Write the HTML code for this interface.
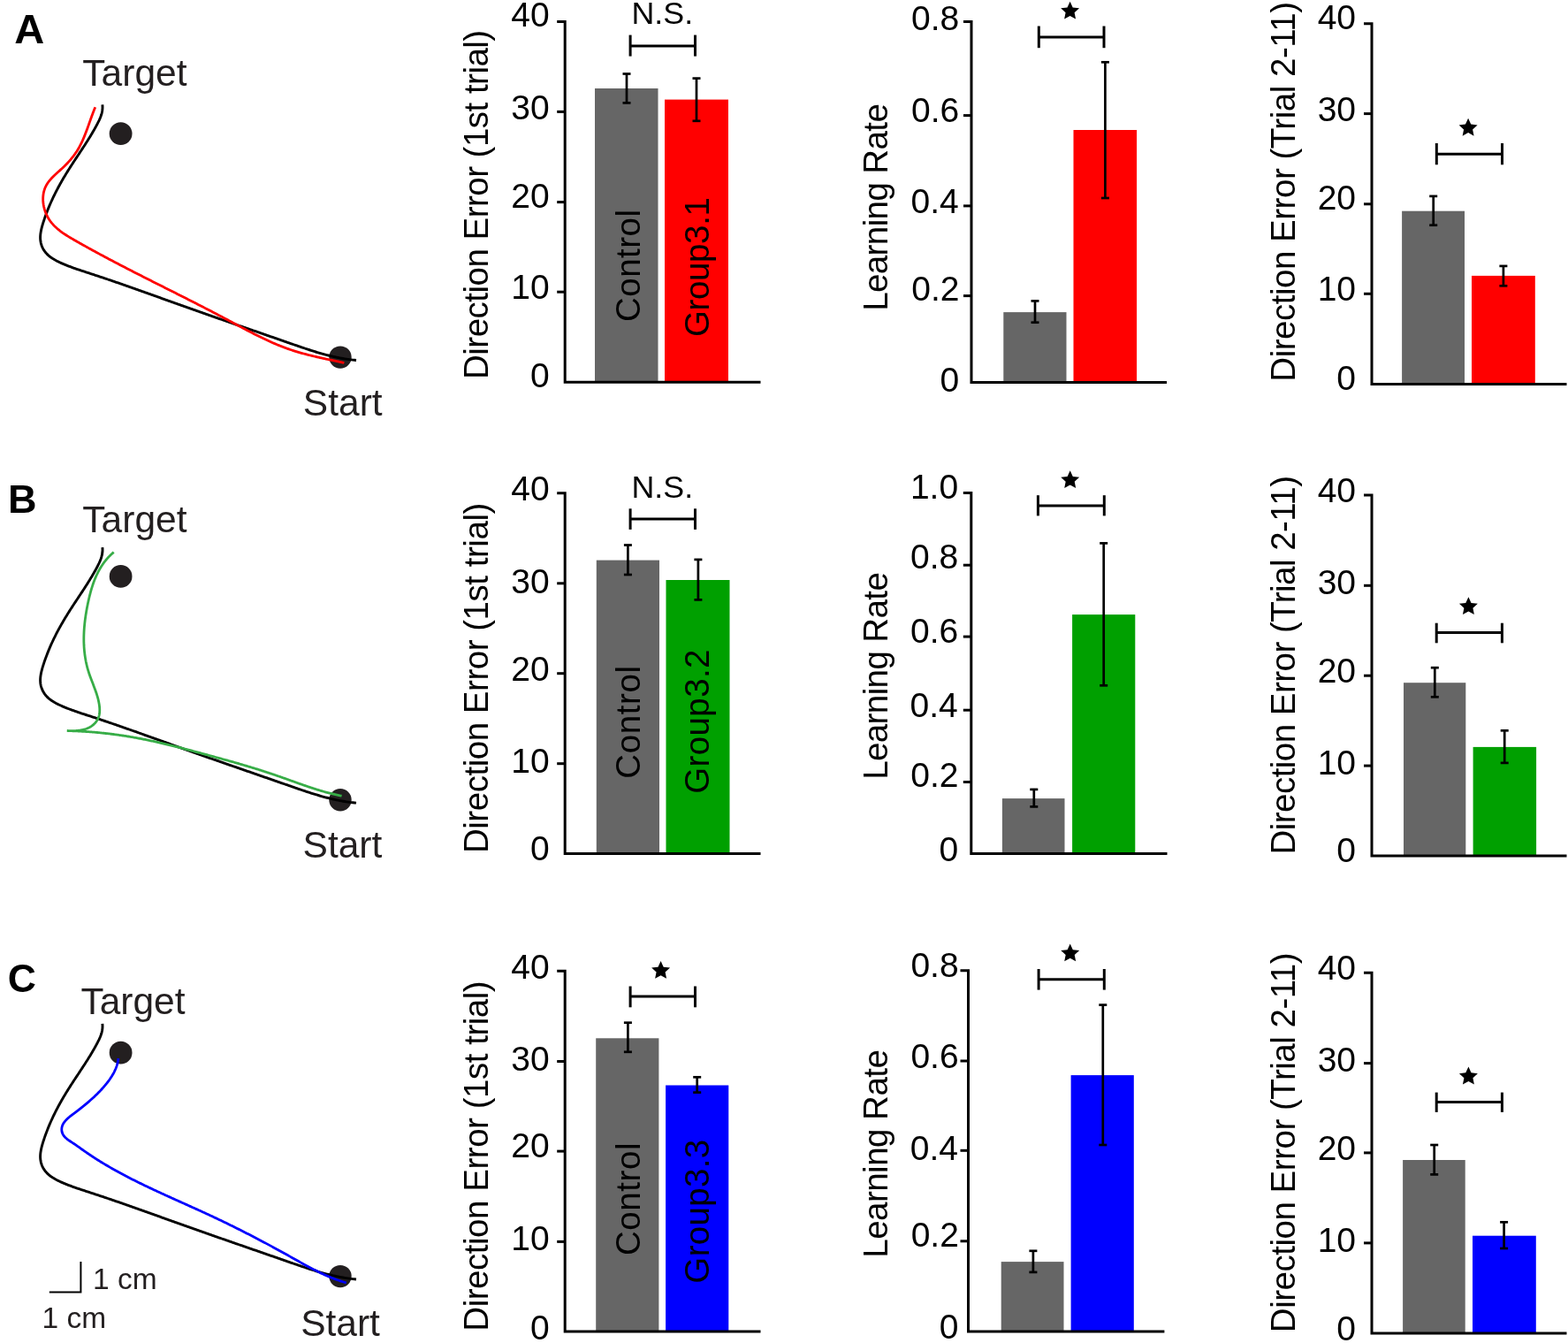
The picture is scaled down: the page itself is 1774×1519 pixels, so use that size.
<!DOCTYPE html>
<html><head><meta charset="utf-8"><title>Figure</title>
<style>html,body{margin:0;padding:0;background:#fff;}svg{display:block;}</style></head>
<body>
<svg width="1774" height="1519" viewBox="0 0 1774 1519" font-family="'Liberation Sans', Arial, Helvetica, sans-serif">
<rect x="0" y="0" width="1774" height="1519" fill="#fff"/>
<text x="16.13" y="49.00" font-size="47.00" fill="#000" font-weight="bold">A</text>
<text x="93.35" y="97.10" font-size="42.50" fill="#231f20">Target</text>
<text x="342.87" y="470.30" font-size="42.50" fill="#231f20">Start</text>
<circle cx="136.6" cy="151.20" r="12.9" fill="#231f20"/>
<circle cx="385.0" cy="404.10" r="12.7" fill="#231f20"/>
<path d="M115.87,118.33 L116.01,120.31 L116.00,122.24 L115.86,124.12 L115.59,125.96 L115.21,127.76 L114.73,129.53 L114.16,131.26 L113.52,132.97 L112.81,134.66 L112.05,136.32 L111.24,137.98 L110.40,139.62 L109.54,141.25 L108.67,142.88 L107.78,144.50 L106.88,146.12 L105.96,147.74 L105.02,149.34 L104.08,150.95 L103.12,152.55 L102.16,154.15 L101.18,155.74 L100.19,157.33 L99.19,158.92 L98.19,160.50 L97.18,162.09 L96.16,163.67 L95.14,165.24 L94.11,166.82 L93.08,168.40 L92.04,169.97 L91.00,171.54 L89.96,173.11 L88.92,174.69 L87.88,176.26 L86.83,177.83 L85.79,179.40 L84.76,180.97 L83.72,182.55 L82.69,184.12 L81.66,185.70 L80.64,187.28 L79.62,188.86 L78.61,190.44 L77.60,192.02 L76.61,193.61 L75.62,195.20 L74.64,196.79 L73.67,198.39 L72.72,199.99 L71.77,201.59 L70.83,203.20 L69.90,204.81 L68.98,206.43 L68.07,208.05 L67.17,209.68 L66.28,211.31 L65.40,212.95 L64.53,214.60 L63.67,216.25 L62.83,217.91 L62.00,219.58 L61.17,221.25 L60.36,222.93 L59.56,224.62 L58.78,226.31 L58.00,228.02 L57.24,229.73 L56.49,231.45 L55.76,233.18 L55.03,234.92 L54.32,236.67 L53.62,238.43 L52.94,240.20 L52.27,241.98 L51.61,243.77 L50.97,245.57 L50.34,247.38 L49.73,249.21 L49.12,251.04 L48.54,252.89 L47.98,254.74 L47.46,256.60 L46.99,258.47 L46.56,260.33 L46.21,262.18 L45.92,264.03 L45.72,265.87 L45.61,267.70 L45.60,269.51 L45.71,271.30 L45.93,273.07 L46.27,274.81 L46.73,276.52 L47.30,278.19 L47.98,279.82 L48.77,281.40 L49.67,282.92 L50.67,284.39 L51.77,285.80 L52.96,287.14 L54.26,288.41 L55.64,289.61 L57.10,290.75 L58.62,291.83 L60.21,292.86 L61.86,293.84 L63.55,294.78 L65.27,295.67 L67.03,296.52 L68.81,297.34 L70.60,298.13 L72.39,298.89 L74.18,299.62 L75.97,300.34 L77.76,301.04 L79.54,301.71 L81.32,302.37 L83.10,303.02 L84.88,303.65 L86.66,304.27 L88.43,304.88 L90.20,305.47 L91.97,306.06 L93.74,306.65 L95.51,307.23 L97.28,307.80 L99.04,308.38 L100.81,308.95 L102.58,309.52 L104.35,310.10 L106.11,310.68 L107.88,311.26 L109.65,311.85 L111.41,312.43 L113.18,313.02 L114.95,313.61 L116.71,314.21 L118.48,314.80 L120.25,315.40 L122.01,316.00 L123.78,316.60 L125.55,317.20 L127.31,317.80 L129.08,318.41 L130.85,319.02 L132.61,319.63 L134.38,320.24 L136.15,320.85 L137.91,321.46 L139.68,322.08 L141.45,322.69 L143.21,323.31 L144.98,323.93 L146.75,324.55 L148.51,325.17 L150.28,325.80 L152.05,326.42 L153.81,327.04 L155.58,327.67 L157.35,328.30 L159.11,328.92 L160.88,329.55 L162.64,330.18 L164.41,330.81 L166.18,331.44 L167.94,332.07 L169.71,332.70 L171.48,333.33 L173.24,333.96 L175.01,334.59 L176.78,335.23 L178.54,335.86 L180.31,336.49 L182.08,337.13 L183.84,337.76 L185.61,338.39 L187.38,339.02 L189.14,339.66 L190.91,340.29 L192.67,340.92 L194.44,341.55 L196.21,342.19 L197.97,342.82 L199.74,343.45 L201.51,344.08 L203.27,344.71 L205.04,345.34 L206.80,345.97 L208.57,346.60 L210.34,347.22 L212.10,347.85 L213.87,348.48 L215.64,349.10 L217.40,349.73 L219.17,350.35 L220.93,350.98 L222.70,351.60 L224.47,352.22 L226.23,352.84 L228.00,353.46 L229.77,354.09 L231.53,354.71 L233.30,355.32 L235.06,355.94 L236.83,356.56 L238.60,357.18 L240.36,357.80 L242.13,358.42 L243.90,359.03 L245.66,359.65 L247.43,360.27 L249.20,360.88 L250.96,361.50 L252.73,362.11 L254.50,362.73 L256.26,363.34 L258.03,363.96 L259.80,364.57 L261.56,365.18 L263.33,365.80 L265.10,366.41 L266.87,367.03 L268.63,367.64 L270.40,368.25 L272.17,368.86 L273.94,369.48 L275.70,370.09 L277.47,370.70 L279.24,371.32 L281.01,371.93 L282.77,372.54 L284.54,373.15 L286.31,373.77 L288.08,374.38 L289.85,374.99 L291.62,375.60 L293.39,376.22 L295.15,376.83 L296.92,377.44 L298.69,378.06 L300.46,378.67 L302.23,379.28 L304.00,379.90 L305.77,380.51 L307.54,381.12 L309.31,381.74 L311.08,382.35 L312.85,382.97 L314.62,383.58 L316.39,384.20 L318.16,384.82 L319.93,385.43 L321.70,386.05 L323.48,386.67 L325.25,387.28 L327.02,387.90 L328.79,388.52 L330.56,389.14 L332.33,389.75 L334.11,390.37 L335.88,390.98 L337.66,391.59 L339.43,392.20 L341.21,392.80 L342.99,393.40 L344.77,394.00 L346.55,394.59 L348.33,395.17 L350.11,395.75 L351.90,396.32 L353.68,396.89 L355.47,397.44 L357.26,397.99 L359.05,398.53 L360.85,399.06 L362.65,399.58 L364.45,400.09 L366.25,400.59 L368.05,401.08 L369.86,401.55 L371.67,402.02 L373.49,402.47 L375.30,402.90 L377.12,403.33 L378.95,403.73 L380.77,404.13 L382.60,404.50 L384.44,404.86 L386.28,405.21 L388.12,405.53 L389.96,405.84 L391.81,406.13 L393.67,406.41 L395.53,406.66 L397.39,406.89 L399.26,407.11 L401.13,407.30 L403.01,407.47" transform="translate(0 0.00)" fill="none" stroke="#000" stroke-width="2.90" stroke-linecap="butt" stroke-linejoin="round"/>
<path d="M107.80,121.18 L107.15,122.75 L106.50,124.33 L105.87,125.93 L105.25,127.54 L104.64,129.16 L104.04,130.79 L103.44,132.42 L102.85,134.07 L102.26,135.72 L101.68,137.37 L101.09,139.03 L100.50,140.69 L99.91,142.35 L99.32,144.01 L98.72,145.67 L98.11,147.33 L97.49,148.98 L96.86,150.62 L96.22,152.26 L95.57,153.89 L94.90,155.51 L94.21,157.12 L93.51,158.72 L92.78,160.31 L92.03,161.88 L91.26,163.43 L90.47,164.97 L89.65,166.49 L88.80,167.98 L87.92,169.46 L87.02,170.92 L86.08,172.35 L85.11,173.77 L84.11,175.16 L83.09,176.54 L82.03,177.90 L80.95,179.24 L79.84,180.57 L78.70,181.88 L77.54,183.18 L76.35,184.46 L75.13,185.73 L73.89,186.98 L72.63,188.23 L71.33,189.46 L70.02,190.68 L68.68,191.90 L67.34,193.11 L65.99,194.32 L64.64,195.54 L63.30,196.76 L61.99,197.99 L60.69,199.23 L59.43,200.49 L58.21,201.77 L57.04,203.07 L55.92,204.40 L54.87,205.75 L53.88,207.14 L52.98,208.57 L52.15,210.03 L51.42,211.54 L50.78,213.09 L50.22,214.67 L49.75,216.28 L49.37,217.92 L49.07,219.58 L48.86,221.27 L48.72,222.96 L48.67,224.68 L48.69,226.39 L48.78,228.12 L48.95,229.84 L49.20,231.56 L49.51,233.27 L49.89,234.97 L50.35,236.66 L50.86,238.32 L51.45,239.97 L52.09,241.58 L52.80,243.17 L53.57,244.72 L54.39,246.24 L55.27,247.71 L56.21,249.14 L57.20,250.52 L58.24,251.86 L59.33,253.16 L60.47,254.42 L61.64,255.64 L62.86,256.82 L64.12,257.98 L65.41,259.10 L66.74,260.19 L68.10,261.26 L69.48,262.29 L70.89,263.31 L72.33,264.30 L73.79,265.28 L75.27,266.23 L76.76,267.17 L78.27,268.09 L79.79,269.01 L81.32,269.91 L82.86,270.80 L84.40,271.69 L85.95,272.57 L87.49,273.44 L89.04,274.32 L90.59,275.19 L92.13,276.06 L93.68,276.93 L95.22,277.79 L96.77,278.65 L98.31,279.51 L99.86,280.36 L101.41,281.22 L102.95,282.06 L104.50,282.91 L106.05,283.76 L107.59,284.60 L109.14,285.44 L110.69,286.28 L112.23,287.11 L113.78,287.95 L115.33,288.78 L116.87,289.60 L118.42,290.43 L119.97,291.26 L121.51,292.08 L123.06,292.90 L124.61,293.72 L126.15,294.53 L127.70,295.35 L129.25,296.16 L130.80,296.97 L132.34,297.78 L133.89,298.59 L135.44,299.40 L136.99,300.20 L138.53,301.00 L140.08,301.81 L141.63,302.61 L143.18,303.40 L144.72,304.20 L146.27,305.00 L147.82,305.79 L149.37,306.59 L150.91,307.38 L152.46,308.17 L154.01,308.96 L155.56,309.75 L157.11,310.54 L158.65,311.32 L160.20,312.11 L161.75,312.90 L163.30,313.68 L164.84,314.47 L166.39,315.25 L167.94,316.03 L169.49,316.81 L171.03,317.60 L172.58,318.38 L174.13,319.16 L175.68,319.94 L177.22,320.72 L178.77,321.50 L180.32,322.27 L181.87,323.05 L183.41,323.83 L184.96,324.61 L186.51,325.39 L188.05,326.17 L189.60,326.95 L191.15,327.72 L192.69,328.50 L194.24,329.28 L195.79,330.06 L197.34,330.84 L198.88,331.62 L200.43,332.40 L201.98,333.18 L203.52,333.96 L205.07,334.74 L206.61,335.52 L208.16,336.30 L209.71,337.08 L211.25,337.86 L212.80,338.65 L214.34,339.43 L215.89,340.22 L217.44,341.00 L218.98,341.79 L220.53,342.58 L222.07,343.36 L223.62,344.15 L225.16,344.94 L226.71,345.74 L228.25,346.53 L229.80,347.32 L231.34,348.12 L232.89,348.91 L234.43,349.71 L235.98,350.51 L237.52,351.31 L239.06,352.11 L240.61,352.92 L242.15,353.72 L243.70,354.53 L245.24,355.33 L246.78,356.14 L248.33,356.96 L249.87,357.77 L251.41,358.58 L252.96,359.40 L254.50,360.22 L256.04,361.04 L257.58,361.86 L259.13,362.69 L260.67,363.51 L262.21,364.34 L263.75,365.16 L265.30,365.99 L266.84,366.82 L268.38,367.65 L269.93,368.47 L271.48,369.30 L273.02,370.12 L274.57,370.94 L276.12,371.76 L277.67,372.58 L279.22,373.39 L280.77,374.20 L282.33,375.01 L283.88,375.81 L285.44,376.61 L287.00,377.41 L288.56,378.20 L290.13,378.99 L291.69,379.77 L293.26,380.54 L294.83,381.31 L296.40,382.07 L297.98,382.83 L299.55,383.58 L301.14,384.32 L302.72,385.05 L304.30,385.78 L305.89,386.50 L307.49,387.21 L309.08,387.91 L310.68,388.60 L312.28,389.28 L313.89,389.95 L315.50,390.61 L317.11,391.26 L318.73,391.90 L320.35,392.53 L321.98,393.14 L323.61,393.75 L325.24,394.34 L326.88,394.92 L328.52,395.49 L330.17,396.04 L331.82,396.58 L333.48,397.11 L335.14,397.62 L336.80,398.12 L338.47,398.61 L340.15,399.09 L341.82,399.56 L343.50,400.02 L345.18,400.47 L346.87,400.91 L348.56,401.34 L350.25,401.76 L351.94,402.18 L353.64,402.59 L355.34,402.99 L357.03,403.38 L358.74,403.78 L360.44,404.16 L362.14,404.54 L363.84,404.92 L365.55,405.29 L367.26,405.66 L368.96,406.03 L370.67,406.40 L372.37,406.76 L374.08,407.13 L375.78,407.49 L377.49,407.86 L379.19,408.22 L380.90,408.59 L382.60,408.96 L384.30,409.33 L386.00,409.70 L387.69,410.07 L389.39,410.45" fill="none" stroke="#ff0000" stroke-width="2.80" stroke-linecap="butt" stroke-linejoin="round"/>
<text x="8.89" y="579.50" font-size="45.00" fill="#000" font-weight="bold">B</text>
<text x="93.35" y="602.30" font-size="42.50" fill="#231f20">Target</text>
<text x="342.57" y="970.40" font-size="42.50" fill="#231f20">Start</text>
<circle cx="136.6" cy="651.90" r="12.9" fill="#231f20"/>
<circle cx="385.0" cy="904.80" r="12.7" fill="#231f20"/>
<path d="M115.87,118.33 L116.01,120.31 L116.00,122.24 L115.86,124.12 L115.59,125.96 L115.21,127.76 L114.73,129.53 L114.16,131.26 L113.52,132.97 L112.81,134.66 L112.05,136.32 L111.24,137.98 L110.40,139.62 L109.54,141.25 L108.67,142.88 L107.78,144.50 L106.88,146.12 L105.96,147.74 L105.02,149.34 L104.08,150.95 L103.12,152.55 L102.16,154.15 L101.18,155.74 L100.19,157.33 L99.19,158.92 L98.19,160.50 L97.18,162.09 L96.16,163.67 L95.14,165.24 L94.11,166.82 L93.08,168.40 L92.04,169.97 L91.00,171.54 L89.96,173.11 L88.92,174.69 L87.88,176.26 L86.83,177.83 L85.79,179.40 L84.76,180.97 L83.72,182.55 L82.69,184.12 L81.66,185.70 L80.64,187.28 L79.62,188.86 L78.61,190.44 L77.60,192.02 L76.61,193.61 L75.62,195.20 L74.64,196.79 L73.67,198.39 L72.72,199.99 L71.77,201.59 L70.83,203.20 L69.90,204.81 L68.98,206.43 L68.07,208.05 L67.17,209.68 L66.28,211.31 L65.40,212.95 L64.53,214.60 L63.67,216.25 L62.83,217.91 L62.00,219.58 L61.17,221.25 L60.36,222.93 L59.56,224.62 L58.78,226.31 L58.00,228.02 L57.24,229.73 L56.49,231.45 L55.76,233.18 L55.03,234.92 L54.32,236.67 L53.62,238.43 L52.94,240.20 L52.27,241.98 L51.61,243.77 L50.97,245.57 L50.34,247.38 L49.73,249.21 L49.12,251.04 L48.54,252.89 L47.98,254.74 L47.46,256.60 L46.99,258.47 L46.56,260.33 L46.21,262.18 L45.92,264.03 L45.72,265.87 L45.61,267.70 L45.60,269.51 L45.71,271.30 L45.93,273.07 L46.27,274.81 L46.73,276.52 L47.30,278.19 L47.98,279.82 L48.77,281.40 L49.67,282.92 L50.67,284.39 L51.77,285.80 L52.96,287.14 L54.26,288.41 L55.64,289.61 L57.10,290.75 L58.62,291.83 L60.21,292.86 L61.86,293.84 L63.55,294.78 L65.27,295.67 L67.03,296.52 L68.81,297.34 L70.60,298.13 L72.39,298.89 L74.18,299.62 L75.97,300.34 L77.76,301.04 L79.54,301.71 L81.32,302.37 L83.10,303.02 L84.88,303.65 L86.66,304.27 L88.43,304.88 L90.20,305.47 L91.97,306.06 L93.74,306.65 L95.51,307.23 L97.28,307.80 L99.04,308.38 L100.81,308.95 L102.58,309.52 L104.35,310.10 L106.11,310.68 L107.88,311.26 L109.65,311.85 L111.41,312.43 L113.18,313.02 L114.95,313.61 L116.71,314.21 L118.48,314.80 L120.25,315.40 L122.01,316.00 L123.78,316.60 L125.55,317.20 L127.31,317.80 L129.08,318.41 L130.85,319.02 L132.61,319.63 L134.38,320.24 L136.15,320.85 L137.91,321.46 L139.68,322.08 L141.45,322.69 L143.21,323.31 L144.98,323.93 L146.75,324.55 L148.51,325.17 L150.28,325.80 L152.05,326.42 L153.81,327.04 L155.58,327.67 L157.35,328.30 L159.11,328.92 L160.88,329.55 L162.64,330.18 L164.41,330.81 L166.18,331.44 L167.94,332.07 L169.71,332.70 L171.48,333.33 L173.24,333.96 L175.01,334.59 L176.78,335.23 L178.54,335.86 L180.31,336.49 L182.08,337.13 L183.84,337.76 L185.61,338.39 L187.38,339.02 L189.14,339.66 L190.91,340.29 L192.67,340.92 L194.44,341.55 L196.21,342.19 L197.97,342.82 L199.74,343.45 L201.51,344.08 L203.27,344.71 L205.04,345.34 L206.80,345.97 L208.57,346.60 L210.34,347.22 L212.10,347.85 L213.87,348.48 L215.64,349.10 L217.40,349.73 L219.17,350.35 L220.93,350.98 L222.70,351.60 L224.47,352.22 L226.23,352.84 L228.00,353.46 L229.77,354.09 L231.53,354.71 L233.30,355.32 L235.06,355.94 L236.83,356.56 L238.60,357.18 L240.36,357.80 L242.13,358.42 L243.90,359.03 L245.66,359.65 L247.43,360.27 L249.20,360.88 L250.96,361.50 L252.73,362.11 L254.50,362.73 L256.26,363.34 L258.03,363.96 L259.80,364.57 L261.56,365.18 L263.33,365.80 L265.10,366.41 L266.87,367.03 L268.63,367.64 L270.40,368.25 L272.17,368.86 L273.94,369.48 L275.70,370.09 L277.47,370.70 L279.24,371.32 L281.01,371.93 L282.77,372.54 L284.54,373.15 L286.31,373.77 L288.08,374.38 L289.85,374.99 L291.62,375.60 L293.39,376.22 L295.15,376.83 L296.92,377.44 L298.69,378.06 L300.46,378.67 L302.23,379.28 L304.00,379.90 L305.77,380.51 L307.54,381.12 L309.31,381.74 L311.08,382.35 L312.85,382.97 L314.62,383.58 L316.39,384.20 L318.16,384.82 L319.93,385.43 L321.70,386.05 L323.48,386.67 L325.25,387.28 L327.02,387.90 L328.79,388.52 L330.56,389.14 L332.33,389.75 L334.11,390.37 L335.88,390.98 L337.66,391.59 L339.43,392.20 L341.21,392.80 L342.99,393.40 L344.77,394.00 L346.55,394.59 L348.33,395.17 L350.11,395.75 L351.90,396.32 L353.68,396.89 L355.47,397.44 L357.26,397.99 L359.05,398.53 L360.85,399.06 L362.65,399.58 L364.45,400.09 L366.25,400.59 L368.05,401.08 L369.86,401.55 L371.67,402.02 L373.49,402.47 L375.30,402.90 L377.12,403.33 L378.95,403.73 L380.77,404.13 L382.60,404.50 L384.44,404.86 L386.28,405.21 L388.12,405.53 L389.96,405.84 L391.81,406.13 L393.67,406.41 L395.53,406.66 L397.39,406.89 L399.26,407.11 L401.13,407.30 L403.01,407.47" transform="translate(0 500.70)" fill="none" stroke="#000" stroke-width="2.90" stroke-linecap="butt" stroke-linejoin="round"/>
<path d="M128.69,624.54 L128.05,625.08 L127.42,625.63 L126.80,626.19 L126.19,626.75 L125.58,627.31 L124.99,627.89 L124.40,628.46 L123.83,629.04 L123.26,629.63 L122.70,630.22 L122.15,630.82 L121.61,631.42 L121.08,632.02 L120.55,632.64 L120.04,633.25 L119.53,633.87 L119.03,634.50 L118.54,635.13 L118.05,635.76 L117.58,636.40 L117.11,637.04 L116.65,637.69 L116.19,638.34 L115.75,639.00 L115.31,639.66 L114.88,640.32 L114.45,640.99 L114.04,641.66 L113.63,642.33 L113.22,643.01 L112.83,643.70 L112.44,644.38 L112.05,645.07 L111.68,645.77 L111.31,646.47 L110.94,647.17 L110.58,647.87 L110.23,648.58 L109.89,649.29 L109.55,650.00 L109.22,650.72 L108.89,651.44 L108.57,652.16 L108.25,652.89 L107.94,653.62 L107.63,654.35 L107.33,655.09 L107.04,655.82 L106.75,656.56 L106.47,657.30 L106.19,658.05 L105.91,658.80 L105.64,659.55 L105.38,660.30 L105.12,661.05 L104.86,661.81 L104.61,662.57 L104.36,663.33 L104.12,664.09 L103.88,664.85 L103.65,665.62 L103.42,666.39 L103.19,667.16 L102.97,667.93 L102.75,668.70 L102.54,669.48 L102.33,670.25 L102.12,671.03 L101.91,671.81 L101.71,672.59 L101.51,673.37 L101.32,674.16 L101.13,674.94 L100.94,675.73 L100.75,676.51 L100.57,677.30 L100.39,678.09 L100.21,678.87 L100.04,679.66 L99.86,680.45 L99.69,681.24 L99.52,682.04 L99.36,682.83 L99.19,683.62 L99.03,684.41 L98.87,685.21 L98.72,686.00 L98.56,686.79 L98.41,687.59 L98.26,688.38 L98.12,689.18 L97.97,689.98 L97.83,690.77 L97.69,691.57 L97.56,692.37 L97.43,693.16 L97.30,693.96 L97.17,694.76 L97.04,695.56 L96.92,696.36 L96.81,697.16 L96.69,697.95 L96.58,698.75 L96.47,699.55 L96.36,700.35 L96.26,701.15 L96.16,701.95 L96.07,702.75 L95.97,703.55 L95.88,704.35 L95.80,705.16 L95.71,705.96 L95.64,706.76 L95.56,707.56 L95.49,708.36 L95.42,709.16 L95.35,709.96 L95.29,710.76 L95.23,711.56 L95.18,712.36 L95.13,713.16 L95.08,713.96 L95.04,714.76 L95.00,715.56 L94.97,716.36 L94.94,717.16 L94.91,717.96 L94.89,718.76 L94.87,719.56 L94.85,720.36 L94.84,721.16 L94.83,721.96 L94.83,722.76 L94.83,723.56 L94.84,724.36 L94.85,725.15 L94.86,725.95 L94.88,726.75 L94.91,727.54 L94.94,728.34 L94.97,729.14 L95.00,729.93 L95.05,730.73 L95.09,731.52 L95.14,732.31 L95.20,733.11 L95.26,733.90 L95.32,734.69 L95.39,735.48 L95.47,736.28 L95.55,737.07 L95.63,737.86 L95.72,738.65 L95.82,739.43 L95.92,740.22 L96.02,741.01 L96.13,741.80 L96.25,742.58 L96.37,743.37 L96.49,744.15 L96.62,744.94 L96.76,745.72 L96.90,746.50 L97.04,747.29 L97.20,748.07 L97.35,748.85 L97.52,749.63 L97.68,750.40 L97.86,751.18 L98.04,751.96 L98.22,752.73 L98.41,753.51 L98.61,754.28 L98.81,755.06 L99.02,755.83 L99.23,756.60 L99.45,757.37 L99.68,758.14 L99.91,758.90 L100.15,759.67 L100.39,760.44 L100.64,761.20 L100.90,761.97 L101.16,762.73 L101.42,763.49 L101.69,764.25 L101.96,765.01 L102.24,765.77 L102.52,766.53 L102.80,767.29 L103.08,768.05 L103.37,768.81 L103.66,769.57 L103.95,770.33 L104.24,771.08 L104.54,771.84 L104.83,772.60 L105.12,773.36 L105.41,774.12 L105.71,774.88 L106.00,775.63 L106.29,776.39 L106.58,777.15 L106.86,777.92 L107.14,778.68 L107.43,779.44 L107.70,780.20 L107.98,780.97 L108.25,781.73 L108.51,782.50 L108.78,783.26 L109.03,784.03 L109.28,784.80 L109.53,785.57 L109.77,786.34 L110.00,787.12 L110.23,787.89 L110.45,788.67 L110.66,789.44 L110.87,790.22 L111.07,791.01 L111.26,791.79 L111.44,792.58 L111.61,793.36 L111.77,794.15 L111.92,794.94 L112.06,795.74 L112.19,796.53 L112.31,797.33 L112.42,798.13 L112.51,798.94 L112.60,799.74 L112.66,800.54 L112.71,801.34 L112.75,802.14 L112.76,802.93 L112.76,803.73 L112.74,804.51 L112.70,805.30 L112.64,806.07 L112.55,806.84 L112.44,807.61 L112.31,808.36 L112.15,809.11 L111.96,809.85 L111.75,810.57 L111.50,811.29 L111.23,811.99 L110.93,812.69 L110.61,813.37 L110.25,814.03 L109.87,814.68 L109.46,815.32 L109.03,815.95 L108.57,816.56 L108.09,817.15 L107.59,817.73 L107.06,818.29 L106.51,818.84 L105.94,819.37 L105.35,819.88 L104.73,820.37 L104.10,820.85 L103.45,821.30 L102.78,821.74 L102.09,822.16 L101.39,822.55 L100.67,822.93 L99.93,823.29 L99.17,823.62 L98.41,823.93 L97.63,824.23 L96.83,824.50 L96.03,824.75 L95.22,824.99 L94.40,825.20 L93.57,825.40 L92.73,825.58 L91.89,825.75 L91.05,825.90 L90.20,826.03 L89.35,826.15 L88.50,826.26 L87.65,826.35 L86.80,826.42 L85.96,826.49 L85.12,826.54 L84.28,826.59 L83.45,826.62 L82.63,826.64 L81.81,826.65 L81.01,826.65 L80.22,826.65 L79.44,826.63 L78.67,826.61 L77.92,826.58 L77.18,826.55 L76.46,826.51 L75.75,826.46 M75.80,826.54 L76.87,826.56 L77.94,826.59 L79.02,826.62 L80.09,826.65 L81.16,826.69 L82.23,826.73 L83.30,826.77 L84.37,826.81 L85.44,826.85 L86.52,826.90 L87.59,826.95 L88.66,827.00 L89.73,827.05 L90.80,827.11 L91.87,827.17 L92.94,827.23 L94.01,827.29 L95.08,827.35 L96.15,827.42 L97.22,827.49 L98.30,827.56 L99.37,827.64 L100.44,827.71 L101.51,827.79 L102.58,827.87 L103.65,827.96 L104.72,828.04 L105.79,828.13 L106.86,828.22 L107.92,828.31 L108.99,828.41 L110.06,828.51 L111.13,828.61 L112.20,828.71 L113.27,828.81 L114.34,828.92 L115.40,829.03 L116.47,829.14 L117.54,829.25 L118.61,829.37 L119.67,829.49 L120.74,829.61 L121.81,829.73 L122.87,829.85 L123.94,829.98 L125.00,830.11 L126.07,830.24 L127.13,830.38 L128.20,830.51 L129.26,830.65 L130.33,830.79 L131.39,830.93 L132.45,831.08 L133.52,831.23 L134.58,831.38 L135.64,831.53 L136.70,831.68 L137.77,831.84 L138.83,832.00 L139.89,832.16 L140.95,832.32 L142.01,832.49 L143.07,832.66 L144.13,832.83 L145.19,833.00 L146.24,833.18 L147.30,833.35 L148.36,833.53 L149.42,833.71 L150.47,833.90 L151.53,834.08 L152.58,834.27 L153.64,834.46 L154.69,834.66 L155.75,834.85 L156.80,835.05 L157.85,835.25 L158.91,835.45 L159.96,835.65 L161.01,835.86 L162.06,836.06 L163.11,836.27 L164.16,836.49 L165.21,836.70 L166.26,836.91 L167.31,837.13 L168.36,837.35 L169.41,837.57 L170.46,837.79 L171.51,838.02 L172.56,838.24 L173.60,838.47 L174.65,838.70 L175.70,838.93 L176.74,839.16 L177.79,839.40 L178.83,839.63 L179.88,839.87 L180.92,840.11 L181.97,840.35 L183.01,840.59 L184.06,840.83 L185.10,841.08 L186.14,841.32 L187.19,841.57 L188.23,841.82 L189.27,842.07 L190.32,842.32 L191.36,842.57 L192.40,842.83 L193.44,843.08 L194.48,843.34 L195.52,843.60 L196.56,843.86 L197.60,844.11 L198.64,844.38 L199.68,844.64 L200.72,844.90 L201.76,845.16 L202.80,845.43 L203.84,845.69 L204.88,845.96 L205.92,846.23 L206.96,846.50 L208.00,846.77 L209.03,847.04 L210.07,847.31 L211.11,847.58 L212.15,847.85 L213.18,848.12 L214.22,848.40 L215.26,848.67 L216.29,848.95 L217.33,849.22 L218.37,849.50 L219.40,849.77 L220.44,850.05 L221.48,850.33 L222.51,850.61 L223.55,850.89 L224.59,851.16 L225.62,851.44 L226.66,851.72 L227.69,852.00 L228.73,852.28 L229.76,852.57 L230.80,852.85 L231.83,853.13 L232.87,853.41 L233.90,853.69 L234.94,853.97 L235.97,854.25 L237.01,854.54 L238.04,854.82 L239.08,855.10 L240.11,855.38 L241.15,855.67 L242.18,855.95 L243.22,856.23 L244.25,856.51 L245.29,856.80 L246.32,857.08 L247.36,857.36 L248.39,857.65 L249.42,857.93 L250.46,858.22 L251.49,858.50 L252.53,858.79 L253.56,859.07 L254.59,859.36 L255.63,859.64 L256.66,859.93 L257.69,860.22 L258.73,860.51 L259.76,860.80 L260.79,861.09 L261.82,861.38 L262.85,861.67 L263.89,861.96 L264.92,862.25 L265.95,862.54 L266.98,862.84 L268.01,863.13 L269.04,863.43 L270.07,863.72 L271.10,864.02 L272.13,864.32 L273.16,864.62 L274.19,864.92 L275.22,865.22 L276.25,865.52 L277.28,865.82 L278.31,866.13 L279.33,866.43 L280.36,866.74 L281.39,867.04 L282.41,867.35 L283.44,867.66 L284.47,867.97 L285.49,868.29 L286.52,868.60 L287.54,868.91 L288.57,869.23 L289.59,869.55 L290.62,869.87 L291.64,870.19 L292.66,870.51 L293.69,870.83 L294.71,871.16 L295.73,871.48 L296.75,871.81 L297.77,872.14 L298.79,872.47 L299.81,872.80 L300.83,873.14 L301.85,873.47 L302.87,873.81 L303.89,874.15 L304.91,874.49 L305.92,874.83 L306.94,875.17 L307.96,875.51 L308.97,875.86 L309.99,876.20 L311.01,876.55 L312.02,876.90 L313.04,877.25 L314.05,877.60 L315.07,877.95 L316.08,878.30 L317.09,878.65 L318.11,879.01 L319.12,879.36 L320.13,879.72 L321.15,880.07 L322.16,880.43 L323.17,880.79 L324.19,881.15 L325.20,881.51 L326.21,881.87 L327.22,882.23 L328.23,882.59 L329.25,882.95 L330.26,883.31 L331.27,883.67 L332.28,884.03 L333.29,884.40 L334.30,884.76 L335.32,885.12 L336.33,885.48 L337.34,885.84 L338.35,886.20 L339.36,886.56 L340.38,886.91 L341.39,887.27 L342.40,887.63 L343.41,887.98 L344.43,888.33 L345.44,888.68 L346.46,889.03 L347.47,889.38 L348.49,889.73 L349.50,890.07 L350.52,890.42 L351.53,890.76 L352.55,891.09 L353.57,891.43 L354.59,891.76 L355.61,892.09 L356.63,892.42 L357.65,892.74 L358.67,893.07 L359.69,893.39 L360.71,893.70 L361.74,894.01 L362.76,894.32 L363.79,894.63 L364.81,894.93 L365.84,895.23 L366.87,895.52 L367.90,895.81 L368.93,896.10 L369.96,896.38 L370.99,896.66 L372.03,896.93 L373.06,897.20 L374.10,897.46 L375.13,897.72 L376.17,897.97 L377.21,898.22 L378.25,898.47 L379.29,898.70 L380.34,898.94 L381.38,899.16 L382.43,899.39 L383.48,899.60 L384.53,899.81 L385.58,900.02 L386.63,900.22" fill="none" stroke="#37ad47" stroke-width="2.80" stroke-linecap="butt" stroke-linejoin="round"/>
<text x="8.77" y="1121.70" font-size="44.50" fill="#000" font-weight="bold">C</text>
<text x="91.45" y="1146.80" font-size="42.50" fill="#231f20">Target</text>
<text x="340.17" y="1510.50" font-size="42.50" fill="#231f20">Start</text>
<circle cx="136.6" cy="1190.70" r="12.9" fill="#231f20"/>
<circle cx="385.0" cy="1443.60" r="12.7" fill="#231f20"/>
<path d="M115.87,118.33 L116.01,120.31 L116.00,122.24 L115.86,124.12 L115.59,125.96 L115.21,127.76 L114.73,129.53 L114.16,131.26 L113.52,132.97 L112.81,134.66 L112.05,136.32 L111.24,137.98 L110.40,139.62 L109.54,141.25 L108.67,142.88 L107.78,144.50 L106.88,146.12 L105.96,147.74 L105.02,149.34 L104.08,150.95 L103.12,152.55 L102.16,154.15 L101.18,155.74 L100.19,157.33 L99.19,158.92 L98.19,160.50 L97.18,162.09 L96.16,163.67 L95.14,165.24 L94.11,166.82 L93.08,168.40 L92.04,169.97 L91.00,171.54 L89.96,173.11 L88.92,174.69 L87.88,176.26 L86.83,177.83 L85.79,179.40 L84.76,180.97 L83.72,182.55 L82.69,184.12 L81.66,185.70 L80.64,187.28 L79.62,188.86 L78.61,190.44 L77.60,192.02 L76.61,193.61 L75.62,195.20 L74.64,196.79 L73.67,198.39 L72.72,199.99 L71.77,201.59 L70.83,203.20 L69.90,204.81 L68.98,206.43 L68.07,208.05 L67.17,209.68 L66.28,211.31 L65.40,212.95 L64.53,214.60 L63.67,216.25 L62.83,217.91 L62.00,219.58 L61.17,221.25 L60.36,222.93 L59.56,224.62 L58.78,226.31 L58.00,228.02 L57.24,229.73 L56.49,231.45 L55.76,233.18 L55.03,234.92 L54.32,236.67 L53.62,238.43 L52.94,240.20 L52.27,241.98 L51.61,243.77 L50.97,245.57 L50.34,247.38 L49.73,249.21 L49.12,251.04 L48.54,252.89 L47.98,254.74 L47.46,256.60 L46.99,258.47 L46.56,260.33 L46.21,262.18 L45.92,264.03 L45.72,265.87 L45.61,267.70 L45.60,269.51 L45.71,271.30 L45.93,273.07 L46.27,274.81 L46.73,276.52 L47.30,278.19 L47.98,279.82 L48.77,281.40 L49.67,282.92 L50.67,284.39 L51.77,285.80 L52.96,287.14 L54.26,288.41 L55.64,289.61 L57.10,290.75 L58.62,291.83 L60.21,292.86 L61.86,293.84 L63.55,294.78 L65.27,295.67 L67.03,296.52 L68.81,297.34 L70.60,298.13 L72.39,298.89 L74.18,299.62 L75.97,300.34 L77.76,301.04 L79.54,301.71 L81.32,302.37 L83.10,303.02 L84.88,303.65 L86.66,304.27 L88.43,304.88 L90.20,305.47 L91.97,306.06 L93.74,306.65 L95.51,307.23 L97.28,307.80 L99.04,308.38 L100.81,308.95 L102.58,309.52 L104.35,310.10 L106.11,310.68 L107.88,311.26 L109.65,311.85 L111.41,312.43 L113.18,313.02 L114.95,313.61 L116.71,314.21 L118.48,314.80 L120.25,315.40 L122.01,316.00 L123.78,316.60 L125.55,317.20 L127.31,317.80 L129.08,318.41 L130.85,319.02 L132.61,319.63 L134.38,320.24 L136.15,320.85 L137.91,321.46 L139.68,322.08 L141.45,322.69 L143.21,323.31 L144.98,323.93 L146.75,324.55 L148.51,325.17 L150.28,325.80 L152.05,326.42 L153.81,327.04 L155.58,327.67 L157.35,328.30 L159.11,328.92 L160.88,329.55 L162.64,330.18 L164.41,330.81 L166.18,331.44 L167.94,332.07 L169.71,332.70 L171.48,333.33 L173.24,333.96 L175.01,334.59 L176.78,335.23 L178.54,335.86 L180.31,336.49 L182.08,337.13 L183.84,337.76 L185.61,338.39 L187.38,339.02 L189.14,339.66 L190.91,340.29 L192.67,340.92 L194.44,341.55 L196.21,342.19 L197.97,342.82 L199.74,343.45 L201.51,344.08 L203.27,344.71 L205.04,345.34 L206.80,345.97 L208.57,346.60 L210.34,347.22 L212.10,347.85 L213.87,348.48 L215.64,349.10 L217.40,349.73 L219.17,350.35 L220.93,350.98 L222.70,351.60 L224.47,352.22 L226.23,352.84 L228.00,353.46 L229.77,354.09 L231.53,354.71 L233.30,355.32 L235.06,355.94 L236.83,356.56 L238.60,357.18 L240.36,357.80 L242.13,358.42 L243.90,359.03 L245.66,359.65 L247.43,360.27 L249.20,360.88 L250.96,361.50 L252.73,362.11 L254.50,362.73 L256.26,363.34 L258.03,363.96 L259.80,364.57 L261.56,365.18 L263.33,365.80 L265.10,366.41 L266.87,367.03 L268.63,367.64 L270.40,368.25 L272.17,368.86 L273.94,369.48 L275.70,370.09 L277.47,370.70 L279.24,371.32 L281.01,371.93 L282.77,372.54 L284.54,373.15 L286.31,373.77 L288.08,374.38 L289.85,374.99 L291.62,375.60 L293.39,376.22 L295.15,376.83 L296.92,377.44 L298.69,378.06 L300.46,378.67 L302.23,379.28 L304.00,379.90 L305.77,380.51 L307.54,381.12 L309.31,381.74 L311.08,382.35 L312.85,382.97 L314.62,383.58 L316.39,384.20 L318.16,384.82 L319.93,385.43 L321.70,386.05 L323.48,386.67 L325.25,387.28 L327.02,387.90 L328.79,388.52 L330.56,389.14 L332.33,389.75 L334.11,390.37 L335.88,390.98 L337.66,391.59 L339.43,392.20 L341.21,392.80 L342.99,393.40 L344.77,394.00 L346.55,394.59 L348.33,395.17 L350.11,395.75 L351.90,396.32 L353.68,396.89 L355.47,397.44 L357.26,397.99 L359.05,398.53 L360.85,399.06 L362.65,399.58 L364.45,400.09 L366.25,400.59 L368.05,401.08 L369.86,401.55 L371.67,402.02 L373.49,402.47 L375.30,402.90 L377.12,403.33 L378.95,403.73 L380.77,404.13 L382.60,404.50 L384.44,404.86 L386.28,405.21 L388.12,405.53 L389.96,405.84 L391.81,406.13 L393.67,406.41 L395.53,406.66 L397.39,406.89 L399.26,407.11 L401.13,407.30 L403.01,407.47" transform="translate(0 1039.50)" fill="none" stroke="#000" stroke-width="2.90" stroke-linecap="butt" stroke-linejoin="round"/>
<path d="M133.81,1197.12 L133.66,1198.64 L133.44,1200.15 L133.15,1201.65 L132.80,1203.14 L132.38,1204.63 L131.91,1206.10 L131.38,1207.57 L130.80,1209.02 L130.17,1210.46 L129.49,1211.89 L128.76,1213.31 L127.99,1214.71 L127.19,1216.10 L126.35,1217.48 L125.47,1218.84 L124.56,1220.19 L123.63,1221.52 L122.66,1222.84 L121.68,1224.14 L120.68,1225.42 L119.65,1226.68 L118.62,1227.92 L117.57,1229.15 L116.51,1230.35 L115.45,1231.54 L114.38,1232.71 L113.30,1233.85 L112.22,1234.99 L111.13,1236.10 L110.03,1237.20 L108.92,1238.28 L107.81,1239.36 L106.68,1240.42 L105.55,1241.46 L104.41,1242.50 L103.26,1243.53 L102.10,1244.55 L100.93,1245.57 L99.76,1246.57 L98.57,1247.57 L97.37,1248.57 L96.16,1249.57 L94.93,1250.56 L93.70,1251.55 L92.45,1252.54 L91.20,1253.54 L89.93,1254.53 L88.64,1255.53 L87.35,1256.53 L86.04,1257.53 L84.72,1258.54 L83.38,1259.56 L82.03,1260.59 L80.69,1261.63 L79.36,1262.68 L78.06,1263.76 L76.80,1264.85 L75.60,1265.98 L74.47,1267.13 L73.43,1268.32 L72.50,1269.55 L71.67,1270.82 L70.98,1272.13 L70.44,1273.50 L70.05,1274.91 L69.83,1276.38 L69.79,1277.88 L69.93,1279.37 L70.25,1280.83 L70.76,1282.21 L71.45,1283.51 L72.29,1284.74 L73.28,1285.90 L74.38,1287.00 L75.59,1288.05 L76.88,1289.05 L78.23,1290.02 L79.62,1290.97 L81.04,1291.90 L82.46,1292.81 L83.86,1293.73 L85.24,1294.66 L86.58,1295.58 L87.91,1296.52 L89.21,1297.45 L90.51,1298.38 L91.80,1299.31 L93.09,1300.24 L94.38,1301.15 L95.67,1302.07 L96.97,1302.97 L98.27,1303.87 L99.58,1304.77 L100.89,1305.65 L102.20,1306.53 L103.52,1307.41 L104.84,1308.28 L106.16,1309.14 L107.49,1310.00 L108.82,1310.85 L110.16,1311.69 L111.50,1312.53 L112.84,1313.37 L114.18,1314.20 L115.53,1315.02 L116.89,1315.84 L118.24,1316.66 L119.60,1317.46 L120.96,1318.27 L122.33,1319.07 L123.69,1319.86 L125.06,1320.65 L126.44,1321.43 L127.81,1322.21 L129.19,1322.99 L130.57,1323.76 L131.96,1324.53 L133.35,1325.29 L134.74,1326.05 L136.13,1326.80 L137.52,1327.55 L138.92,1328.30 L140.32,1329.04 L141.72,1329.78 L143.13,1330.51 L144.53,1331.24 L145.94,1331.97 L147.35,1332.70 L148.76,1333.42 L150.18,1334.14 L151.59,1334.85 L153.01,1335.56 L154.43,1336.27 L155.86,1336.98 L157.28,1337.68 L158.70,1338.38 L160.13,1339.07 L161.56,1339.77 L162.99,1340.46 L164.42,1341.15 L165.86,1341.84 L167.29,1342.52 L168.73,1343.20 L170.17,1343.88 L171.60,1344.56 L173.04,1345.24 L174.48,1345.91 L175.93,1346.58 L177.37,1347.26 L178.81,1347.92 L180.26,1348.59 L181.71,1349.26 L183.15,1349.92 L184.60,1350.59 L186.05,1351.25 L187.50,1351.91 L188.95,1352.57 L190.40,1353.23 L191.85,1353.88 L193.30,1354.54 L194.75,1355.20 L196.20,1355.85 L197.65,1356.51 L199.11,1357.16 L200.56,1357.82 L202.01,1358.47 L203.47,1359.12 L204.92,1359.78 L206.37,1360.43 L207.83,1361.08 L209.28,1361.74 L210.73,1362.39 L212.18,1363.04 L213.64,1363.70 L215.09,1364.35 L216.54,1365.00 L217.99,1365.66 L219.44,1366.31 L220.89,1366.97 L222.34,1367.63 L223.79,1368.29 L225.24,1368.94 L226.69,1369.60 L228.14,1370.26 L229.58,1370.93 L231.03,1371.59 L232.47,1372.26 L233.92,1372.92 L235.36,1373.59 L236.80,1374.26 L238.24,1374.93 L239.68,1375.60 L241.12,1376.28 L242.56,1376.95 L243.99,1377.63 L245.43,1378.31 L246.86,1378.99 L248.29,1379.67 L249.72,1380.36 L251.15,1381.05 L252.58,1381.73 L254.01,1382.42 L255.44,1383.11 L256.87,1383.81 L258.29,1384.50 L259.72,1385.20 L261.14,1385.90 L262.56,1386.60 L263.98,1387.30 L265.40,1388.00 L266.82,1388.71 L268.24,1389.42 L269.66,1390.12 L271.08,1390.83 L272.49,1391.55 L273.91,1392.26 L275.32,1392.98 L276.73,1393.69 L278.14,1394.41 L279.56,1395.13 L280.97,1395.85 L282.38,1396.58 L283.78,1397.30 L285.19,1398.03 L286.60,1398.76 L288.01,1399.49 L289.41,1400.22 L290.82,1400.96 L292.22,1401.69 L293.62,1402.43 L295.03,1403.17 L296.43,1403.91 L297.83,1404.65 L299.23,1405.39 L300.63,1406.14 L302.03,1406.89 L303.43,1407.63 L304.82,1408.39 L306.22,1409.14 L307.62,1409.89 L309.01,1410.65 L310.41,1411.40 L311.80,1412.16 L313.20,1412.92 L314.59,1413.68 L315.98,1414.45 L317.37,1415.21 L318.76,1415.98 L320.16,1416.75 L321.55,1417.52 L322.94,1418.29 L324.32,1419.06 L325.71,1419.84 L327.10,1420.62 L328.49,1421.39 L329.88,1422.17 L331.26,1422.95 L332.65,1423.73 L334.04,1424.51 L335.43,1425.29 L336.82,1426.07 L338.21,1426.84 L339.60,1427.62 L340.99,1428.39 L342.38,1429.16 L343.78,1429.93 L345.18,1430.69 L346.57,1431.45 L347.97,1432.20 L349.38,1432.95 L350.78,1433.70 L352.19,1434.44 L353.60,1435.17 L355.01,1435.90 L356.43,1436.62 L357.85,1437.34 L359.27,1438.05 L360.69,1438.74 L362.12,1439.44 L363.56,1440.12 L364.99,1440.79 L366.43,1441.45 L367.88,1442.11 L369.33,1442.75 L370.78,1443.39 L372.24,1444.01 L373.71,1444.62 L375.18,1445.22 L376.65,1445.81 L378.14,1446.38 L379.62,1446.94 L381.11,1447.49 L382.61,1448.02 L384.12,1448.54 L385.63,1449.05 L387.15,1449.54 L388.67,1450.02 L390.20,1450.48 L391.74,1450.92" fill="none" stroke="#0000ff" stroke-width="2.80" stroke-linecap="butt" stroke-linejoin="round"/>
<path d="M55.8,1461.6 H91.4 V1427.1" fill="none" stroke="#000" stroke-width="2"/>
<text x="105.05" y="1458.00" font-size="33.50" fill="#231f20">1 cm</text>
<text x="47.55" y="1501.50" font-size="33.50" fill="#231f20">1 cm</text>
<rect x="673.00" y="100.00" width="71.50" height="332.20" fill="#666666"/>
<rect x="752.00" y="112.60" width="72.00" height="319.60" fill="#ff0000"/>
<text transform="translate(723.50 363.96) rotate(-90)" font-size="38.50" fill="#000" textLength="127.03" lengthAdjust="spacing">Control</text>
<text transform="translate(801.80 381.04) rotate(-90)" font-size="38.50" fill="#000" textLength="157.92" lengthAdjust="spacing">Group3.1</text>
<path d="M630.20,24.50 H639.20 V432.20 H860.50" fill="none" stroke="#000" stroke-width="3.00" stroke-linejoin="miter"/>
<line x1="630.20" y1="126.40" x2="639.20" y2="126.40" stroke="#000" stroke-width="3.00" stroke-linecap="butt"/>
<line x1="630.20" y1="228.60" x2="639.20" y2="228.60" stroke="#000" stroke-width="3.00" stroke-linecap="butt"/>
<line x1="630.20" y1="330.20" x2="639.20" y2="330.20" stroke="#000" stroke-width="3.00" stroke-linecap="butt"/>
<text x="578.34" y="29.90" font-size="39.00" fill="#000">40</text>
<text x="578.34" y="134.70" font-size="39.00" fill="#000">30</text>
<text x="578.34" y="234.70" font-size="39.00" fill="#000">20</text>
<text x="578.34" y="337.90" font-size="39.00" fill="#000">10</text>
<text x="600.03" y="437.90" font-size="39.00" fill="#000">0</text>
<line x1="709.00" y1="83.50" x2="709.00" y2="116.40" stroke="#000" stroke-width="2.70" stroke-linecap="butt"/><line x1="704.50" y1="83.50" x2="713.50" y2="83.50" stroke="#000" stroke-width="2.70" stroke-linecap="butt"/><line x1="704.50" y1="116.40" x2="713.50" y2="116.40" stroke="#000" stroke-width="2.70" stroke-linecap="butt"/>
<line x1="788.00" y1="88.60" x2="788.00" y2="136.80" stroke="#000" stroke-width="2.70" stroke-linecap="butt"/><line x1="783.50" y1="88.60" x2="792.50" y2="88.60" stroke="#000" stroke-width="2.70" stroke-linecap="butt"/><line x1="783.50" y1="136.80" x2="792.50" y2="136.80" stroke="#000" stroke-width="2.70" stroke-linecap="butt"/>
<line x1="713.10" y1="39.60" x2="713.10" y2="63.60" stroke="#000" stroke-width="3.00" stroke-linecap="butt"/><line x1="786.50" y1="39.60" x2="786.50" y2="63.60" stroke="#000" stroke-width="3.00" stroke-linecap="butt"/><line x1="713.10" y1="51.90" x2="786.50" y2="51.90" stroke="#000" stroke-width="3.00" stroke-linecap="butt"/>
<text x="714.46" y="27.40" font-size="35.80" fill="#000">N.S.</text>
<text transform="translate(552.10 428.96) rotate(-90)" font-size="38.50" fill="#000" textLength="395.15" lengthAdjust="spacing">Direction Error (1st trial)</text>
<rect x="674.80" y="633.60" width="71.20" height="332.00" fill="#666666"/>
<rect x="753.50" y="656.00" width="72.00" height="309.60" fill="#00a000"/>
<text transform="translate(723.50 880.66) rotate(-90)" font-size="38.50" fill="#000" textLength="127.63" lengthAdjust="spacing">Control</text>
<text transform="translate(801.80 897.74) rotate(-90)" font-size="38.50" fill="#000" textLength="163.17" lengthAdjust="spacing">Group3.2</text>
<path d="M630.20,557.70 H639.20 V965.60 H860.50" fill="none" stroke="#000" stroke-width="3.00" stroke-linejoin="miter"/>
<line x1="630.20" y1="659.80" x2="639.20" y2="659.80" stroke="#000" stroke-width="3.00" stroke-linecap="butt"/>
<line x1="630.20" y1="761.70" x2="639.20" y2="761.70" stroke="#000" stroke-width="3.00" stroke-linecap="butt"/>
<line x1="630.20" y1="863.70" x2="639.20" y2="863.70" stroke="#000" stroke-width="3.00" stroke-linecap="butt"/>
<text x="578.34" y="565.70" font-size="39.00" fill="#000">40</text>
<text x="578.34" y="670.80" font-size="39.00" fill="#000">30</text>
<text x="578.34" y="769.60" font-size="39.00" fill="#000">20</text>
<text x="578.34" y="873.70" font-size="39.00" fill="#000">10</text>
<text x="600.03" y="973.00" font-size="39.00" fill="#000">0</text>
<line x1="710.40" y1="616.50" x2="710.40" y2="650.00" stroke="#000" stroke-width="2.70" stroke-linecap="butt"/><line x1="705.90" y1="616.50" x2="714.90" y2="616.50" stroke="#000" stroke-width="2.70" stroke-linecap="butt"/><line x1="705.90" y1="650.00" x2="714.90" y2="650.00" stroke="#000" stroke-width="2.70" stroke-linecap="butt"/>
<line x1="789.90" y1="632.90" x2="789.90" y2="678.40" stroke="#000" stroke-width="2.70" stroke-linecap="butt"/><line x1="785.40" y1="632.90" x2="794.40" y2="632.90" stroke="#000" stroke-width="2.70" stroke-linecap="butt"/><line x1="785.40" y1="678.40" x2="794.40" y2="678.40" stroke="#000" stroke-width="2.70" stroke-linecap="butt"/>
<line x1="713.10" y1="575.30" x2="713.10" y2="598.90" stroke="#000" stroke-width="3.00" stroke-linecap="butt"/><line x1="786.50" y1="575.30" x2="786.50" y2="598.90" stroke="#000" stroke-width="3.00" stroke-linecap="butt"/><line x1="713.10" y1="587.00" x2="786.50" y2="587.00" stroke="#000" stroke-width="3.00" stroke-linecap="butt"/>
<text x="714.46" y="563.10" font-size="35.80" fill="#000">N.S.</text>
<text transform="translate(552.10 965.06) rotate(-90)" font-size="38.50" fill="#000" textLength="396.35" lengthAdjust="spacing">Direction Error (1st trial)</text>
<rect x="674.20" y="1174.30" width="71.20" height="331.70" fill="#666666"/>
<rect x="753.10" y="1227.50" width="71.20" height="278.50" fill="#0000ff"/>
<text transform="translate(723.50 1420.06) rotate(-90)" font-size="38.50" fill="#000" textLength="127.63" lengthAdjust="spacing">Control</text>
<text transform="translate(801.80 1451.64) rotate(-90)" font-size="38.50" fill="#000" textLength="162.93" lengthAdjust="spacing">Group3.3</text>
<path d="M630.20,1098.20 H639.20 V1506.00 H860.50" fill="none" stroke="#000" stroke-width="3.00" stroke-linejoin="miter"/>
<line x1="630.20" y1="1200.50" x2="639.20" y2="1200.50" stroke="#000" stroke-width="3.00" stroke-linecap="butt"/>
<line x1="630.20" y1="1302.10" x2="639.20" y2="1302.10" stroke="#000" stroke-width="3.00" stroke-linecap="butt"/>
<line x1="630.20" y1="1404.40" x2="639.20" y2="1404.40" stroke="#000" stroke-width="3.00" stroke-linecap="butt"/>
<text x="578.34" y="1106.60" font-size="39.00" fill="#000">40</text>
<text x="578.34" y="1210.90" font-size="39.00" fill="#000">30</text>
<text x="578.34" y="1309.20" font-size="39.00" fill="#000">20</text>
<text x="578.34" y="1413.90" font-size="39.00" fill="#000">10</text>
<text x="600.03" y="1514.60" font-size="39.00" fill="#000">0</text>
<line x1="710.40" y1="1156.70" x2="710.40" y2="1189.80" stroke="#000" stroke-width="2.70" stroke-linecap="butt"/><line x1="705.90" y1="1156.70" x2="714.90" y2="1156.70" stroke="#000" stroke-width="2.70" stroke-linecap="butt"/><line x1="705.90" y1="1189.80" x2="714.90" y2="1189.80" stroke="#000" stroke-width="2.70" stroke-linecap="butt"/>
<line x1="788.70" y1="1218.30" x2="788.70" y2="1235.60" stroke="#000" stroke-width="2.70" stroke-linecap="butt"/><line x1="784.20" y1="1218.30" x2="793.20" y2="1218.30" stroke="#000" stroke-width="2.70" stroke-linecap="butt"/><line x1="784.20" y1="1235.60" x2="793.20" y2="1235.60" stroke="#000" stroke-width="2.70" stroke-linecap="butt"/>
<line x1="713.10" y1="1115.50" x2="713.10" y2="1139.30" stroke="#000" stroke-width="3.00" stroke-linecap="butt"/><line x1="786.50" y1="1115.50" x2="786.50" y2="1139.30" stroke="#000" stroke-width="3.00" stroke-linecap="butt"/><line x1="713.10" y1="1127.00" x2="786.50" y2="1127.00" stroke="#000" stroke-width="3.00" stroke-linecap="butt"/>
<polygon points="747.60,1086.90 750.70,1093.63 758.06,1094.50 752.62,1099.53 754.07,1106.80 747.60,1103.18 741.13,1106.80 742.58,1099.53 737.14,1094.50 744.50,1093.63" fill="#000"/>
<text transform="translate(552.00 1505.66) rotate(-90)" font-size="38.50" fill="#000" textLength="396.35" lengthAdjust="spacing">Direction Error (1st trial)</text>
<rect x="1135.30" y="353.10" width="71.20" height="79.30" fill="#666666"/>
<rect x="1214.50" y="147.00" width="71.60" height="285.40" fill="#ff0000"/>
<path d="M1090.00,24.50 H1099.00 V432.40 H1320.00" fill="none" stroke="#000" stroke-width="3.00" stroke-linejoin="miter"/>
<line x1="1090.00" y1="130.60" x2="1099.00" y2="130.60" stroke="#000" stroke-width="3.00" stroke-linecap="butt"/>
<line x1="1090.00" y1="232.90" x2="1099.00" y2="232.90" stroke="#000" stroke-width="3.00" stroke-linecap="butt"/>
<line x1="1090.00" y1="334.60" x2="1099.00" y2="334.60" stroke="#000" stroke-width="3.00" stroke-linecap="butt"/>
<text x="1031.08" y="33.80" font-size="39.00" fill="#000">0.8</text>
<text x="1031.10" y="138.00" font-size="39.00" fill="#000">0.6</text>
<text x="1030.53" y="241.30" font-size="39.00" fill="#000">0.4</text>
<text x="1031.35" y="340.00" font-size="39.00" fill="#000">0.2</text>
<text x="1063.43" y="443.30" font-size="39.00" fill="#000">0</text>
<line x1="1171.00" y1="340.40" x2="1171.00" y2="364.70" stroke="#000" stroke-width="2.70" stroke-linecap="butt"/><line x1="1166.50" y1="340.40" x2="1175.50" y2="340.40" stroke="#000" stroke-width="2.70" stroke-linecap="butt"/><line x1="1166.50" y1="364.70" x2="1175.50" y2="364.70" stroke="#000" stroke-width="2.70" stroke-linecap="butt"/>
<line x1="1250.40" y1="70.30" x2="1250.40" y2="224.00" stroke="#000" stroke-width="2.70" stroke-linecap="butt"/><line x1="1245.90" y1="70.30" x2="1254.90" y2="70.30" stroke="#000" stroke-width="2.70" stroke-linecap="butt"/><line x1="1245.90" y1="224.00" x2="1254.90" y2="224.00" stroke="#000" stroke-width="2.70" stroke-linecap="butt"/>
<line x1="1175.30" y1="29.50" x2="1175.30" y2="54.20" stroke="#000" stroke-width="3.00" stroke-linecap="butt"/><line x1="1249.00" y1="29.50" x2="1249.00" y2="54.20" stroke="#000" stroke-width="3.00" stroke-linecap="butt"/><line x1="1175.30" y1="42.00" x2="1249.00" y2="42.00" stroke="#000" stroke-width="3.00" stroke-linecap="butt"/>
<polygon points="1210.60,1.70 1213.70,8.43 1221.06,9.30 1215.62,14.33 1217.07,21.60 1210.60,17.98 1204.13,21.60 1205.58,14.33 1200.14,9.30 1207.50,8.43" fill="#000"/>
<text transform="translate(1004.30 351.86) rotate(-90)" font-size="38.50" fill="#000" textLength="234.77" lengthAdjust="spacing">Learning Rate</text>
<rect x="1133.90" y="903.10" width="70.60" height="62.30" fill="#666666"/>
<rect x="1213.10" y="695.10" width="71.20" height="270.30" fill="#00a000"/>
<path d="M1089.80,557.50 H1098.80 V965.40 H1320.50" fill="none" stroke="#000" stroke-width="3.00" stroke-linejoin="miter"/>
<line x1="1089.80" y1="639.20" x2="1098.80" y2="639.20" stroke="#000" stroke-width="3.00" stroke-linecap="butt"/>
<line x1="1089.80" y1="720.10" x2="1098.80" y2="720.10" stroke="#000" stroke-width="3.00" stroke-linecap="butt"/>
<line x1="1089.80" y1="803.20" x2="1098.80" y2="803.20" stroke="#000" stroke-width="3.00" stroke-linecap="butt"/>
<line x1="1089.80" y1="884.50" x2="1098.80" y2="884.50" stroke="#000" stroke-width="3.00" stroke-linecap="butt"/>
<text x="1029.91" y="563.90" font-size="39.00" fill="#000">1.0</text>
<text x="1030.08" y="642.90" font-size="39.00" fill="#000">0.8</text>
<text x="1030.10" y="727.40" font-size="39.00" fill="#000">0.6</text>
<text x="1029.53" y="810.80" font-size="39.00" fill="#000">0.4</text>
<text x="1030.35" y="890.00" font-size="39.00" fill="#000">0.2</text>
<text x="1062.43" y="973.60" font-size="39.00" fill="#000">0</text>
<line x1="1169.80" y1="892.90" x2="1169.80" y2="912.40" stroke="#000" stroke-width="2.70" stroke-linecap="butt"/><line x1="1165.30" y1="892.90" x2="1174.30" y2="892.90" stroke="#000" stroke-width="2.70" stroke-linecap="butt"/><line x1="1165.30" y1="912.40" x2="1174.30" y2="912.40" stroke="#000" stroke-width="2.70" stroke-linecap="butt"/>
<line x1="1248.70" y1="614.40" x2="1248.70" y2="775.30" stroke="#000" stroke-width="2.70" stroke-linecap="butt"/><line x1="1244.20" y1="614.40" x2="1253.20" y2="614.40" stroke="#000" stroke-width="2.70" stroke-linecap="butt"/><line x1="1244.20" y1="775.30" x2="1253.20" y2="775.30" stroke="#000" stroke-width="2.70" stroke-linecap="butt"/>
<line x1="1174.40" y1="560.20" x2="1174.40" y2="583.40" stroke="#000" stroke-width="3.00" stroke-linecap="butt"/><line x1="1249.30" y1="560.20" x2="1249.30" y2="583.40" stroke="#000" stroke-width="3.00" stroke-linecap="butt"/><line x1="1174.40" y1="572.00" x2="1249.30" y2="572.00" stroke="#000" stroke-width="3.00" stroke-linecap="butt"/>
<polygon points="1210.70,532.20 1213.80,538.93 1221.16,539.80 1215.72,544.83 1217.17,552.10 1210.70,548.48 1204.23,552.10 1205.68,544.83 1200.24,539.80 1207.60,538.93" fill="#000"/>
<text transform="translate(1004.30 881.86) rotate(-90)" font-size="38.50" fill="#000" textLength="234.77" lengthAdjust="spacing">Learning Rate</text>
<rect x="1132.70" y="1427.10" width="70.80" height="78.80" fill="#666666"/>
<rect x="1211.60" y="1216.10" width="71.20" height="289.80" fill="#0000ff"/>
<path d="M1086.50,1097.70 H1095.50 V1505.90 H1317.40" fill="none" stroke="#000" stroke-width="3.00" stroke-linejoin="miter"/>
<line x1="1086.50" y1="1200.00" x2="1095.50" y2="1200.00" stroke="#000" stroke-width="3.00" stroke-linecap="butt"/>
<line x1="1086.50" y1="1301.30" x2="1095.50" y2="1301.30" stroke="#000" stroke-width="3.00" stroke-linecap="butt"/>
<line x1="1086.50" y1="1403.80" x2="1095.50" y2="1403.80" stroke="#000" stroke-width="3.00" stroke-linecap="butt"/>
<text x="1030.38" y="1104.50" font-size="39.00" fill="#000">0.8</text>
<text x="1030.40" y="1207.90" font-size="39.00" fill="#000">0.6</text>
<text x="1029.83" y="1312.30" font-size="39.00" fill="#000">0.4</text>
<text x="1030.65" y="1409.90" font-size="39.00" fill="#000">0.2</text>
<text x="1062.73" y="1513.90" font-size="39.00" fill="#000">0</text>
<line x1="1168.90" y1="1414.80" x2="1168.90" y2="1438.90" stroke="#000" stroke-width="2.70" stroke-linecap="butt"/><line x1="1164.40" y1="1414.80" x2="1173.40" y2="1414.80" stroke="#000" stroke-width="2.70" stroke-linecap="butt"/><line x1="1164.40" y1="1438.90" x2="1173.40" y2="1438.90" stroke="#000" stroke-width="2.70" stroke-linecap="butt"/>
<line x1="1247.80" y1="1136.60" x2="1247.80" y2="1295.00" stroke="#000" stroke-width="2.70" stroke-linecap="butt"/><line x1="1243.30" y1="1136.60" x2="1252.30" y2="1136.60" stroke="#000" stroke-width="2.70" stroke-linecap="butt"/><line x1="1243.30" y1="1295.00" x2="1252.30" y2="1295.00" stroke="#000" stroke-width="2.70" stroke-linecap="butt"/>
<line x1="1175.10" y1="1096.00" x2="1175.10" y2="1119.60" stroke="#000" stroke-width="3.00" stroke-linecap="butt"/><line x1="1249.30" y1="1096.00" x2="1249.30" y2="1119.60" stroke="#000" stroke-width="3.00" stroke-linecap="butt"/><line x1="1175.10" y1="1107.80" x2="1249.30" y2="1107.80" stroke="#000" stroke-width="3.00" stroke-linecap="butt"/>
<polygon points="1210.70,1067.40 1213.80,1074.13 1221.16,1075.00 1215.72,1080.03 1217.17,1087.30 1210.70,1083.68 1204.23,1087.30 1205.68,1080.03 1200.24,1075.00 1207.60,1074.13" fill="#000"/>
<text transform="translate(1004.30 1422.76) rotate(-90)" font-size="38.50" fill="#000" textLength="235.67" lengthAdjust="spacing">Learning Rate</text>
<rect x="1586.10" y="238.70" width="70.90" height="195.70" fill="#666666"/>
<rect x="1665.00" y="311.90" width="71.80" height="122.50" fill="#ff0000"/>
<path d="M1543.00,26.80 H1552.00 V434.40 H1772.50" fill="none" stroke="#000" stroke-width="3.00" stroke-linejoin="miter"/>
<line x1="1543.00" y1="128.60" x2="1552.00" y2="128.60" stroke="#000" stroke-width="3.00" stroke-linecap="butt"/>
<line x1="1543.00" y1="230.80" x2="1552.00" y2="230.80" stroke="#000" stroke-width="3.00" stroke-linecap="butt"/>
<line x1="1543.00" y1="332.30" x2="1552.00" y2="332.30" stroke="#000" stroke-width="3.00" stroke-linecap="butt"/>
<text x="1490.64" y="32.60" font-size="39.00" fill="#000">40</text>
<text x="1490.64" y="137.20" font-size="39.00" fill="#000">30</text>
<text x="1490.64" y="236.50" font-size="39.00" fill="#000">20</text>
<text x="1490.64" y="339.70" font-size="39.00" fill="#000">10</text>
<text x="1512.33" y="440.50" font-size="39.00" fill="#000">0</text>
<line x1="1621.70" y1="221.90" x2="1621.70" y2="254.70" stroke="#000" stroke-width="2.70" stroke-linecap="butt"/><line x1="1617.20" y1="221.90" x2="1626.20" y2="221.90" stroke="#000" stroke-width="2.70" stroke-linecap="butt"/><line x1="1617.20" y1="254.70" x2="1626.20" y2="254.70" stroke="#000" stroke-width="2.70" stroke-linecap="butt"/>
<line x1="1700.90" y1="300.90" x2="1700.90" y2="323.30" stroke="#000" stroke-width="2.70" stroke-linecap="butt"/><line x1="1696.40" y1="300.90" x2="1705.40" y2="300.90" stroke="#000" stroke-width="2.70" stroke-linecap="butt"/><line x1="1696.40" y1="323.30" x2="1705.40" y2="323.30" stroke="#000" stroke-width="2.70" stroke-linecap="butt"/>
<line x1="1625.30" y1="162.00" x2="1625.30" y2="186.30" stroke="#000" stroke-width="3.00" stroke-linecap="butt"/><line x1="1699.50" y1="162.00" x2="1699.50" y2="186.30" stroke="#000" stroke-width="3.00" stroke-linecap="butt"/><line x1="1625.30" y1="174.30" x2="1699.50" y2="174.30" stroke="#000" stroke-width="3.00" stroke-linecap="butt"/>
<polygon points="1661.10,133.80 1664.20,140.53 1671.56,141.40 1666.12,146.43 1667.57,153.70 1661.10,150.08 1654.63,153.70 1656.08,146.43 1650.64,141.40 1658.00,140.53" fill="#000"/>
<text transform="translate(1465.00 431.66) rotate(-90)" font-size="38.50" fill="#000" textLength="429.75" lengthAdjust="spacing">Direction Error (Trial 2-11)</text>
<rect x="1588.00" y="772.20" width="70.30" height="195.70" fill="#666666"/>
<rect x="1666.60" y="844.90" width="71.50" height="123.00" fill="#00a000"/>
<path d="M1543.00,560.00 H1552.00 V967.90 H1772.50" fill="none" stroke="#000" stroke-width="3.00" stroke-linejoin="miter"/>
<line x1="1543.00" y1="662.30" x2="1552.00" y2="662.30" stroke="#000" stroke-width="3.00" stroke-linecap="butt"/>
<line x1="1543.00" y1="764.20" x2="1552.00" y2="764.20" stroke="#000" stroke-width="3.00" stroke-linecap="butt"/>
<line x1="1543.00" y1="866.10" x2="1552.00" y2="866.10" stroke="#000" stroke-width="3.00" stroke-linecap="butt"/>
<text x="1490.64" y="567.90" font-size="39.00" fill="#000">40</text>
<text x="1490.64" y="672.40" font-size="39.00" fill="#000">30</text>
<text x="1490.64" y="772.10" font-size="39.00" fill="#000">20</text>
<text x="1490.64" y="876.30" font-size="39.00" fill="#000">10</text>
<text x="1512.33" y="975.00" font-size="39.00" fill="#000">0</text>
<line x1="1623.30" y1="755.20" x2="1623.30" y2="788.30" stroke="#000" stroke-width="2.70" stroke-linecap="butt"/><line x1="1618.80" y1="755.20" x2="1627.80" y2="755.20" stroke="#000" stroke-width="2.70" stroke-linecap="butt"/><line x1="1618.80" y1="788.30" x2="1627.80" y2="788.30" stroke="#000" stroke-width="2.70" stroke-linecap="butt"/>
<line x1="1702.20" y1="826.30" x2="1702.20" y2="862.90" stroke="#000" stroke-width="2.70" stroke-linecap="butt"/><line x1="1697.70" y1="826.30" x2="1706.70" y2="826.30" stroke="#000" stroke-width="2.70" stroke-linecap="butt"/><line x1="1697.70" y1="862.90" x2="1706.70" y2="862.90" stroke="#000" stroke-width="2.70" stroke-linecap="butt"/>
<line x1="1625.20" y1="704.70" x2="1625.20" y2="727.30" stroke="#000" stroke-width="3.00" stroke-linecap="butt"/><line x1="1699.40" y1="704.70" x2="1699.40" y2="727.30" stroke="#000" stroke-width="3.00" stroke-linecap="butt"/><line x1="1625.20" y1="715.60" x2="1699.40" y2="715.60" stroke="#000" stroke-width="3.00" stroke-linecap="butt"/>
<polygon points="1661.40,675.20 1664.50,681.93 1671.86,682.80 1666.42,687.83 1667.87,695.10 1661.40,691.48 1654.93,695.10 1656.38,687.83 1650.94,682.80 1658.30,681.93" fill="#000"/>
<text transform="translate(1465.00 966.56) rotate(-90)" font-size="38.50" fill="#000" textLength="428.65" lengthAdjust="spacing">Direction Error (Trial 2-11)</text>
<rect x="1587.10" y="1312.00" width="70.60" height="196.10" fill="#666666"/>
<rect x="1666.00" y="1397.70" width="71.80" height="110.40" fill="#0000ff"/>
<path d="M1543.00,1100.30 H1552.00 V1508.10 H1772.50" fill="none" stroke="#000" stroke-width="3.00" stroke-linejoin="miter"/>
<line x1="1543.00" y1="1202.60" x2="1552.00" y2="1202.60" stroke="#000" stroke-width="3.00" stroke-linecap="butt"/>
<line x1="1543.00" y1="1303.90" x2="1552.00" y2="1303.90" stroke="#000" stroke-width="3.00" stroke-linecap="butt"/>
<line x1="1543.00" y1="1405.90" x2="1552.00" y2="1405.90" stroke="#000" stroke-width="3.00" stroke-linecap="butt"/>
<text x="1490.64" y="1108.20" font-size="39.00" fill="#000">40</text>
<text x="1490.64" y="1212.40" font-size="39.00" fill="#000">30</text>
<text x="1490.64" y="1312.30" font-size="39.00" fill="#000">20</text>
<text x="1490.64" y="1416.10" font-size="39.00" fill="#000">10</text>
<text x="1512.33" y="1516.00" font-size="39.00" fill="#000">0</text>
<line x1="1622.70" y1="1295.00" x2="1622.70" y2="1328.40" stroke="#000" stroke-width="2.70" stroke-linecap="butt"/><line x1="1618.20" y1="1295.00" x2="1627.20" y2="1295.00" stroke="#000" stroke-width="2.70" stroke-linecap="butt"/><line x1="1618.20" y1="1328.40" x2="1627.20" y2="1328.40" stroke="#000" stroke-width="2.70" stroke-linecap="butt"/>
<line x1="1701.60" y1="1382.30" x2="1701.60" y2="1412.00" stroke="#000" stroke-width="2.70" stroke-linecap="butt"/><line x1="1697.10" y1="1382.30" x2="1706.10" y2="1382.30" stroke="#000" stroke-width="2.70" stroke-linecap="butt"/><line x1="1697.10" y1="1412.00" x2="1706.10" y2="1412.00" stroke="#000" stroke-width="2.70" stroke-linecap="butt"/>
<line x1="1625.20" y1="1235.60" x2="1625.20" y2="1257.90" stroke="#000" stroke-width="3.00" stroke-linecap="butt"/><line x1="1699.40" y1="1235.60" x2="1699.40" y2="1257.90" stroke="#000" stroke-width="3.00" stroke-linecap="butt"/><line x1="1625.20" y1="1246.40" x2="1699.40" y2="1246.40" stroke="#000" stroke-width="3.00" stroke-linecap="butt"/>
<polygon points="1661.40,1206.60 1664.50,1213.33 1671.86,1214.20 1666.42,1219.23 1667.87,1226.50 1661.40,1222.88 1654.93,1226.50 1656.38,1219.23 1650.94,1214.20 1658.30,1213.33" fill="#000"/>
<text transform="translate(1465.00 1507.16) rotate(-90)" font-size="38.50" fill="#000" textLength="429.80" lengthAdjust="spacing">Direction Error (Trial 2-11)</text>
</svg>
</body></html>
